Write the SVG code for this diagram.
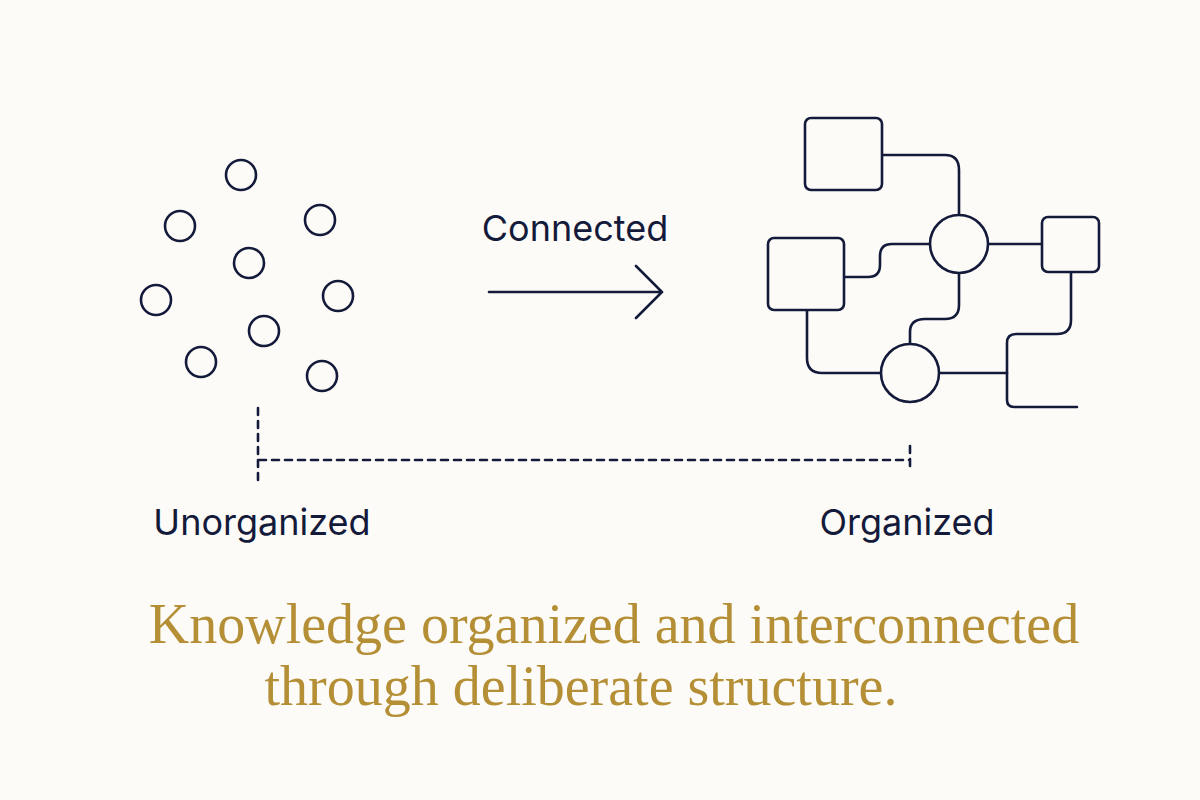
<svg xmlns="http://www.w3.org/2000/svg" width="1200" height="800" viewBox="0 0 1200 800">
<style>
.s{fill:none;stroke:#141a3a;stroke-width:2.6;stroke-linecap:round}
.n{fill:#fcfbf8;stroke:#141a3a;stroke-width:2.6}
.l{font-family:Inter,"Noto Sans",sans-serif;font-size:36px;fill:#141a3a}
.t{font-family:"Liberation Serif",serif;font-size:56px;fill:#b58f35;text-anchor:middle}
</style>
<rect width="1200" height="800" fill="#fcfbf8"/>
<g id="scatter">
<circle class="n" cx="241" cy="175" r="15"/>
<circle class="n" cx="180" cy="226" r="15"/>
<circle class="n" cx="320" cy="220" r="15"/>
<circle class="n" cx="249" cy="263" r="15"/>
<circle class="n" cx="156" cy="300" r="15"/>
<circle class="n" cx="338" cy="296" r="15"/>
<circle class="n" cx="264" cy="331" r="15"/>
<circle class="n" cx="201" cy="362" r="15"/>
<circle class="n" cx="322" cy="376" r="15"/>
</g>
<g id="connectors">
<path class="s" d="M489 292H662M636 266L662 292L636 318"/>
<path class="s" d="M258 408V480M259 460H910M910 446V466" stroke-dasharray="7 6"/>
<path class="s" d="M882 155H945Q959 155 959 170V215"/>
<path class="s" d="M930 244H892Q880 244 880 256V265Q880 277 868 277H844"/>
<path class="s" d="M988 244H1042"/>
<path class="s" d="M959 273V305Q959 319 945 319H925Q910 319 910 332V344"/>
<path class="s" d="M807 310V358Q807 373 822 373H881"/>
<path class="s" d="M939 373H1007"/>
<path class="s" d="M1071 272V320Q1071 334 1057 334H1016Q1007 334 1007 343V400Q1007 407 1014 407H1077"/>
</g>
<g id="network">
<rect class="n" x="805" y="118" width="77" height="72" rx="6"/>
<rect class="n" x="768" y="238" width="76" height="72" rx="6"/>
<rect class="n" x="1042" y="217" width="57" height="55" rx="6"/>
<circle class="n" cx="959" cy="244" r="29"/>
<circle class="n" cx="910" cy="373" r="29"/>
</g>
<g id="labels">
<text class="l" x="575" y="241" text-anchor="middle">Connected</text>
<text class="l" x="262" y="535" text-anchor="middle">Unorganized</text>
<text class="l" x="907" y="535" text-anchor="middle">Organized</text>
<text class="t" x="614" y="643">Knowledge organized and interconnected</text>
<text class="t" x="581" y="705">through deliberate structure.</text>
</g>
</svg>
